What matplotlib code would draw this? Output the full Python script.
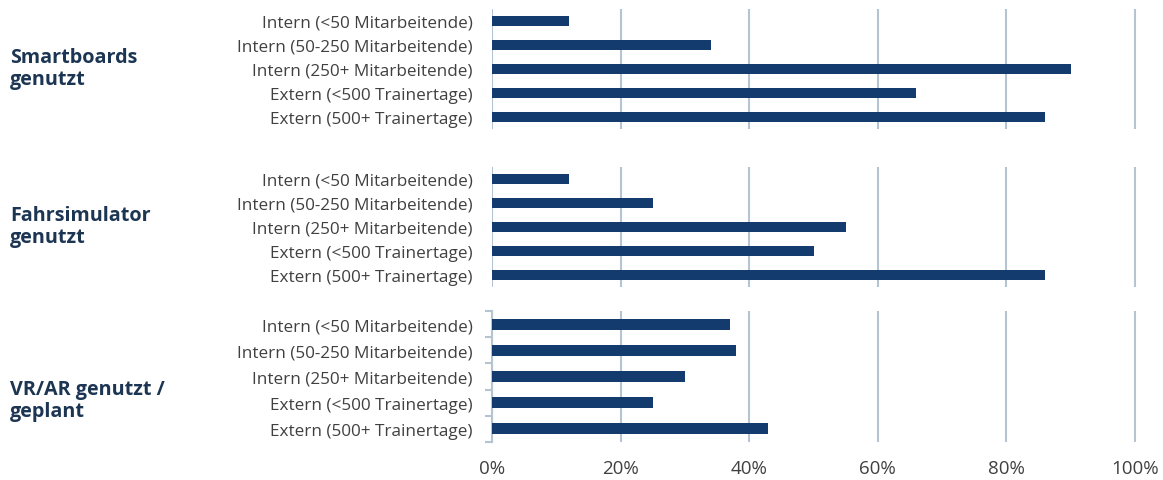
import matplotlib
matplotlib.use("Agg")
import matplotlib.pyplot as plt
from matplotlib.ticker import PercentFormatter

plt.rcParams['font.family'] = ['Open Sans', 'DejaVu Sans']

categories = [
    "Intern (<50 Mitarbeitende)",
    "Intern (50-250 Mitarbeitende)",
    "Intern (250+ Mitarbeitende)",
    "Extern (<500 Trainertage)",
    "Extern (500+ Trainertage)",
]
groups = ["Smartboards\ngenutzt", "Fahrsimulator\ngenutzt", "VR/AR genutzt /\ngeplant"]
smartboards = [12, 34, 90, 66, 86]
fahrsimulator = [12, 25, 55, 50, 86]
vr_ar = [37, 38, 30, 25, 43]
series = [smartboards, fahrsimulator, vr_ar]
xticks = [0, 20, 40, 60, 80, 100]

bar_color = "#143b6e"
grid_color = "#b6c3d1"
label_color = "#404040"
group_color = "#1c3553"

fig = plt.figure(figsize=(11.63, 4.81), dpi=100)
W, H = 1163, 481
# panel extents in pixels: left edge at 0 %, 6.43 px per percent, xlim 0..101
x0 = 492
x1 = x0 + 101 * 6.43
panels = [(10, 130), (168, 288), (312, 443)]
group_y = [69, 227, 401]

for i, ((top, bot), vals, grp, gy) in enumerate(zip(panels, series, groups, group_y)):
    ax = fig.add_axes([x0 / W, 1 - bot / H, (x1 - x0) / W, (bot - top) / H])
    ypos = list(range(len(categories)))
    ax.barh(ypos, vals, height=0.42, color=bar_color, zorder=3)
    ax.set_xlim(0, 101)
    ax.set_ylim(len(categories) - 0.5, -0.5)
    ax.set_xticks(xticks)
    ax.grid(axis="x", color=grid_color, linewidth=1.5, zorder=0)
    for s in ax.spines.values():
        s.set_visible(False)
    ax.set_yticks(ypos)
    ax.set_yticklabels(categories, fontsize=12.3, color=label_color)
    if i == 2:
        ax.spines["left"].set_visible(True)
        ax.spines["left"].set_color(grid_color)
        ax.spines["left"].set_linewidth(1.5)
        ax.set_yticks([y - 0.5 for y in range(len(categories) + 1)], minor=True)
        ax.tick_params(axis="y", which="minor", length=5, color=grid_color, width=1.5)
        ax.tick_params(axis="y", which="major", length=0, pad=14)
        ax.tick_params(axis="x", length=0, labelsize=13.5, labelcolor=label_color, pad=12)
        ax.xaxis.set_major_formatter(PercentFormatter(decimals=0))
    else:
        ax.tick_params(axis="y", length=0, pad=14)
        ax.tick_params(axis="x", length=0, labelbottom=False)
    fig.text(10 / W, 1 - gy / H, grp, fontsize=14.2, fontweight="bold",
             color=group_color, ha="left", va="center", linespacing=1.15)

fig.savefig("out.png", dpi=100)
